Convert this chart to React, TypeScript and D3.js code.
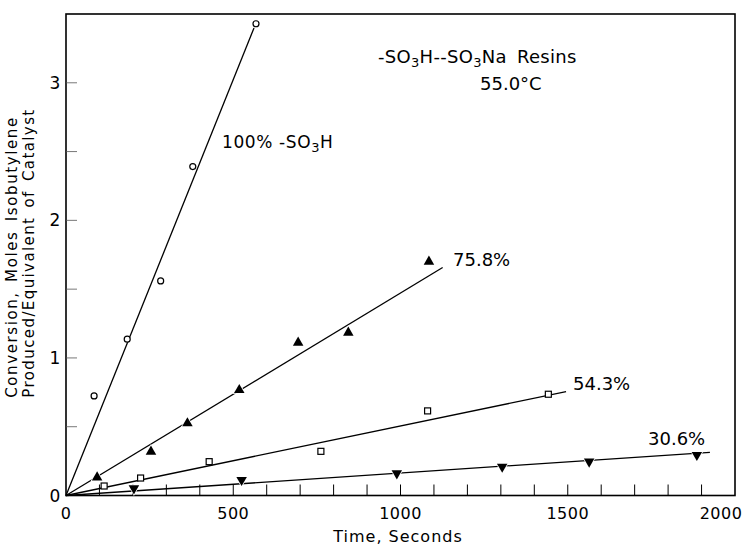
import * as d3 from "d3";

// 100% -SO3H (open circles)
const circleT = [84, 183, 283, 379, 568];
const circleV = [0.724, 1.136, 1.56, 2.391, 3.429];
// 75.8% (filled triangles)
const triT = [93, 254, 363, 518, 694, 844, 1085];
const triV = [0.132, 0.319, 0.525, 0.767, 1.111, 1.184, 1.7];
// 54.3% (open squares)
const sqT = [114, 223, 428, 762, 1081, 1442];
const sqV = [0.069, 0.127, 0.246, 0.321, 0.615, 0.736];
// 30.6% (filled inverted triangles)
const invT = [203, 525, 989, 1304, 1564, 1886];
const invV = [0.052, 0.113, 0.161, 0.209, 0.246, 0.295];

// fitted straight lines, from origin to end point [t, v]
const fitLines = [
  [[0, 0], [562, 3.398]],
  [[0, 0], [1126, 1.657]],
  [[0, 0], [1495, 0.755]],
  [[0, 0], [1925, 0.314]],
];

const xTicks = [0, 500, 1000, 1500, 2000];
const yTicks = [0, 1, 2, 3];

const FONT = "DejaVu Sans, sans-serif";

export default function App() {
  const width = 746;
  const height = 545;
  const left = 66, right = 735, top = 14, bottom = 495.5;

  const x = d3.scaleLinear().domain([0, 2000]).range([left, right]);
  const y = d3.scaleLinear().domain([0, 3.5]).range([bottom, top]);

  const line = d3.line<number[]>().x(d => x(d[0])).y(d => y(d[1]));
  const triUp = d3.symbol().type(d3.symbolTriangle).size(48)()!;

  const minorX = d3.range(100, 2000, 100);
  const minorY = d3.range(0.5, 3.5, 0.5);

  const sub = (s: string) => (
    <tspan dy={4} fontSize={13}>{s}</tspan>
  );

  return (
    <svg width={width} height={height} style={{ position: "absolute", left: 0, top: 0, background: "#fff" }}
      fontFamily={FONT}>
      <rect width={width} height={height} fill="#fff" />

      {/* frame */}
      <rect x={left} y={top} width={right - left} height={bottom - top} fill="none" stroke="#000" strokeWidth={1.6} />

      {/* ticks */}
      {minorX.map(t => (
        <line key={"xt" + t} x1={x(t)} x2={x(t)} y1={bottom} y2={bottom - 11} stroke="#000" strokeWidth={1} />
      ))}
      {minorY.map(v => (
        <line key={"yt" + v} x1={left} x2={left + 11} y1={y(v)} y2={y(v)} stroke="#555" strokeWidth={0.8} />
      ))}

      {/* tick labels */}
      {xTicks.map(t => (
        <text key={"xl" + t} x={t === 2000 ? x(t) - 14 : x(t)} y={519} textAnchor="middle" fontSize={16} letterSpacing={0.5}>{t}</text>
      ))}
      {yTicks.map(v => (
        <text key={"yl" + v} x={55} y={y(v) + 6} textAnchor="middle" fontSize={17}>{v}</text>
      ))}

      {/* axis titles */}
      <text x={398} y={542} textAnchor="middle" fontSize={16} letterSpacing={1}>Time,  Seconds</text>
      <g transform="translate(17,257) rotate(-90)">
        <text x={0} y={0} textAnchor="middle" fontSize={15} letterSpacing={1.6} wordSpacing={3}>Conversion, Moles Isobutylene</text>
      </g>
      <g transform="translate(34,253) rotate(-90)">
        <text x={0} y={0} textAnchor="middle" fontSize={15} letterSpacing={1.4} wordSpacing={3}>Produced/Equivalent of Catalyst</text>
      </g>

      {/* fitted lines */}
      {fitLines.map((pts, i) => (
        <path key={"fl" + i} d={line(pts as number[][])!} fill="none" stroke="#000" strokeWidth={1.3} />
      ))}

      {/* markers */}
      {circleT.map((t, i) => (
        <circle key={"c" + i} cx={x(t)} cy={y(circleV[i])} r={3} fill="#fff" stroke="#000" strokeWidth={1.2} />
      ))}
      {triT.map((t, i) => (
        <path key={"t" + i} d={triUp} transform={`translate(${x(t)},${y(triV[i])})`} fill="#000" stroke="#fff" strokeWidth={1.5} paintOrder="stroke" />
      ))}
      {sqT.map((t, i) => (
        <rect key={"s" + i} x={x(t) - 3} y={y(sqV[i]) - 3} width={6} height={6} fill="#fff" stroke="#000" strokeWidth={1.2} />
      ))}
      {invT.map((t, i) => (
        <path key={"v" + i} d={triUp} transform={`translate(${x(t)},${y(invV[i])}) rotate(180)`} fill="#000" stroke="#fff" strokeWidth={1.5} paintOrder="stroke" />
      ))}

      {/* annotations */}
      <text x={378} y={63} fontSize={18} letterSpacing={0.3} wordSpacing={4}>
        -SO{sub("3")}<tspan dy={-4}>H--SO</tspan>{sub("3")}<tspan dy={-4}>Na Resins</tspan>
      </text>
      <text x={480} y={90} fontSize={18}>55.0°C</text>
      <text x={222} y={148} fontSize={17} letterSpacing={0.6}>
        100%  -SO{sub("3")}<tspan dy={-4}>H</tspan>
      </text>
      <text x={453} y={266} fontSize={18}>75.8%</text>
      <text x={573} y={390} fontSize={18}>54.3%</text>
      <text x={648} y={445} fontSize={18}>30.6%</text>
    </svg>
  );
}
